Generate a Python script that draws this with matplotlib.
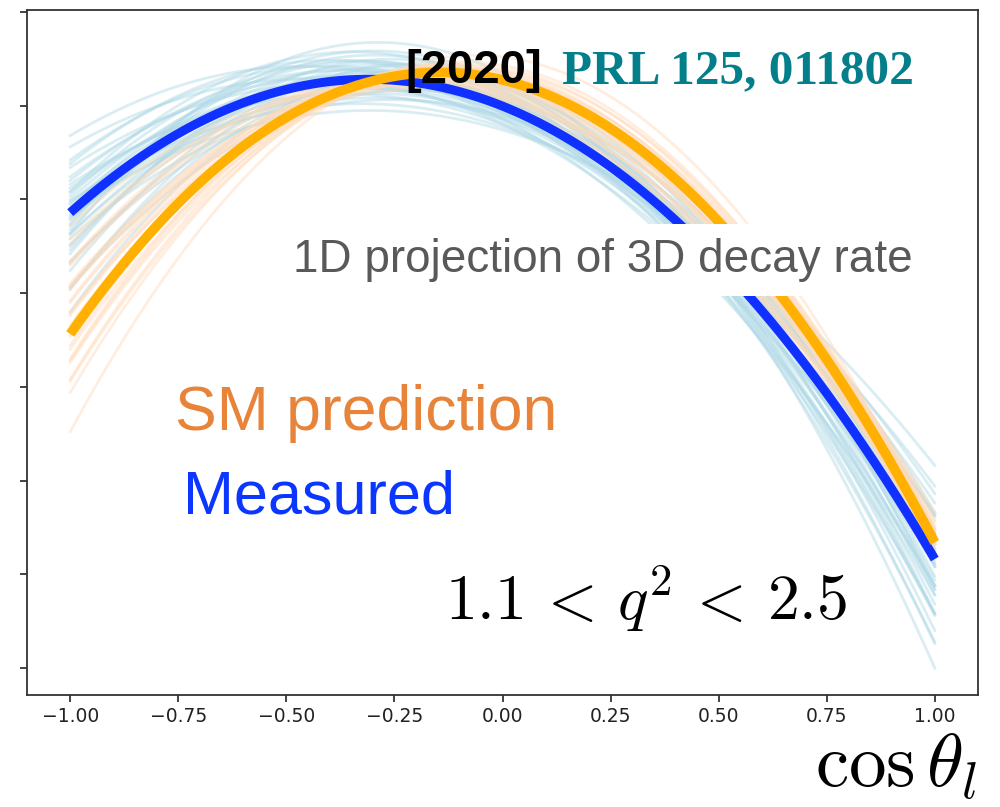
import numpy as np
import matplotlib.pyplot as plt

plt.rcParams['mathtext.fontset'] = 'cm'

# angular observables (F_L, A_FB) for the 1.1 < q^2 < 2.5 bin
fl_measured, afb_measured = 0.665, -0.231
fl_sm, afb_sm = 0.758, -0.139

# posterior samples of the measured observables
fl_meas_samples = [0.62, 0.60, 0.64, 0.66, 0.58, 0.70, 0.72, 0.74, 0.68, 0.63,
                   0.61, 0.65, 0.69, 0.71, 0.75, 0.76, 0.78, 0.73, 0.67, 0.76,
                   0.59, 0.62, 0.64, 0.66, 0.68, 0.70, 0.72, 0.74, 0.60, 0.63,
                   0.65, 0.67, 0.69, 0.71, 0.73, 0.62, 0.66, 0.75, 0.64, 0.69]
afb_meas_samples = [-0.30, -0.22, -0.26, -0.24, -0.17, -0.28, -0.30, -0.27, -0.20, -0.20,
                    -0.25, -0.29, -0.24, -0.22, -0.24, -0.20, -0.29, -0.18, -0.17, -0.17,
                    -0.19, -0.23, -0.21, -0.27, -0.26, -0.19, -0.25, -0.21, -0.27, -0.17,
                    -0.23, -0.30, -0.15, -0.27, -0.23, -0.19, -0.20, -0.28, -0.24, -0.22]

# samples of the SM prediction
fl_sm_samples = [0.76, 0.74, 0.78, 0.72, 0.70, 0.68, 0.66, 0.80, 0.79, 0.77,
                 0.75, 0.73, 0.71, 0.69, 0.67, 0.78, 0.76, 0.74, 0.72, 0.70,
                 0.81, 0.84, 0.75, 0.73, 0.77, 0.71, 0.69, 0.79]
afb_sm_samples = [-0.14, -0.15, -0.12, -0.17, -0.19, -0.20, -0.21, -0.11, -0.13, -0.15,
                  -0.13, -0.16, -0.17, -0.18, -0.20, -0.14, -0.12, -0.17, -0.14, -0.16,
                  -0.10, -0.07, -0.16, -0.13, -0.11, -0.20, -0.15, -0.10]

xticks = [-1.0, -0.75, -0.5, -0.25, 0.0, 0.25, 0.5, 0.75, 1.0]
yticks = [-0.25, 0.0, 0.25, 0.5, 0.75, 1.0, 1.25, 1.5]


def rate(c, fl, afb):
    # cos(theta_l) projection, normalised to 2 over [-1, 1]
    return 2 * (0.75 * fl * (1 - c**2) + 0.375 * (1 - fl) * (1 + c**2) + afb * c)


ctl = np.linspace(-1, 1, 300)

fig = plt.figure(figsize=(10, 8.07), dpi=100)
ax = fig.add_axes([0.027, 0.1388, 0.951, 0.8488])

for fl, afb in zip(fl_meas_samples, afb_meas_samples):
    ax.plot(ctl, rate(ctl, fl, afb), color='lightblue', lw=2, alpha=0.45, zorder=2)
for fl, afb in zip(fl_sm_samples, afb_sm_samples):
    ax.plot(ctl, rate(ctl, fl, afb), color='peachpuff', lw=2, alpha=0.45, zorder=3)
ax.plot(ctl, rate(ctl, fl_measured, afb_measured), color='#1030ff', lw=6.5,
        solid_capstyle='butt', zorder=4)
ax.plot(ctl, rate(ctl, fl_sm, afb_sm), color='#ffb000', lw=7,
        solid_capstyle='butt', zorder=5)

ax.set_xlim(-1.1, 1.1)
ax.set_ylim(-0.322, 1.505)
ax.set_xticks(xticks)
ax.set_yticks(yticks)
ax.set_yticklabels([])
ax.tick_params(labelsize=13.5, length=5, width=1.2, colors='#222222')
for sp in ax.spines.values():
    sp.set_linewidth(1.3)
    sp.set_color('#333333')

fig.text(0.405, 1 - 83 / 807, '[2020]', fontsize=34, fontweight='bold',
         family='Liberation Sans', color='black', va='baseline', zorder=10)
fig.text(0.562, 1 - 83 / 807, 'PRL 125, 011802', fontsize=35.5, fontweight='bold',
         family='Liberation Serif', color='#037f8c', va='baseline')
fig.text(0.293, 1 - 272 / 807, '1D projection of 3D decay rate', fontsize=33,
         family='Liberation Sans', color='#595959', va='baseline',
         bbox=dict(boxstyle='square,pad=0.3', facecolor='white', edgecolor='none'))
fig.text(0.175, 1 - 430 / 807, 'SM prediction', fontsize=45,
         family='Liberation Sans', color='#e8833a', va='baseline')
fig.text(0.183, 1 - 513 / 807, 'Measured', fontsize=44,
         family='Liberation Sans', color='#0a36ff', va='baseline')
fig.text(0.445, 1 - 620 / 807, r'$1.1\,<\,q^2\,<\,2.5$', fontsize=46,
         color='black', va='baseline')
fig.text(0.815, 1 - 787 / 807, r'$\cos\theta_l$', fontsize=54,
         color='black', va='baseline')

fig.savefig('out.png', dpi=100)
